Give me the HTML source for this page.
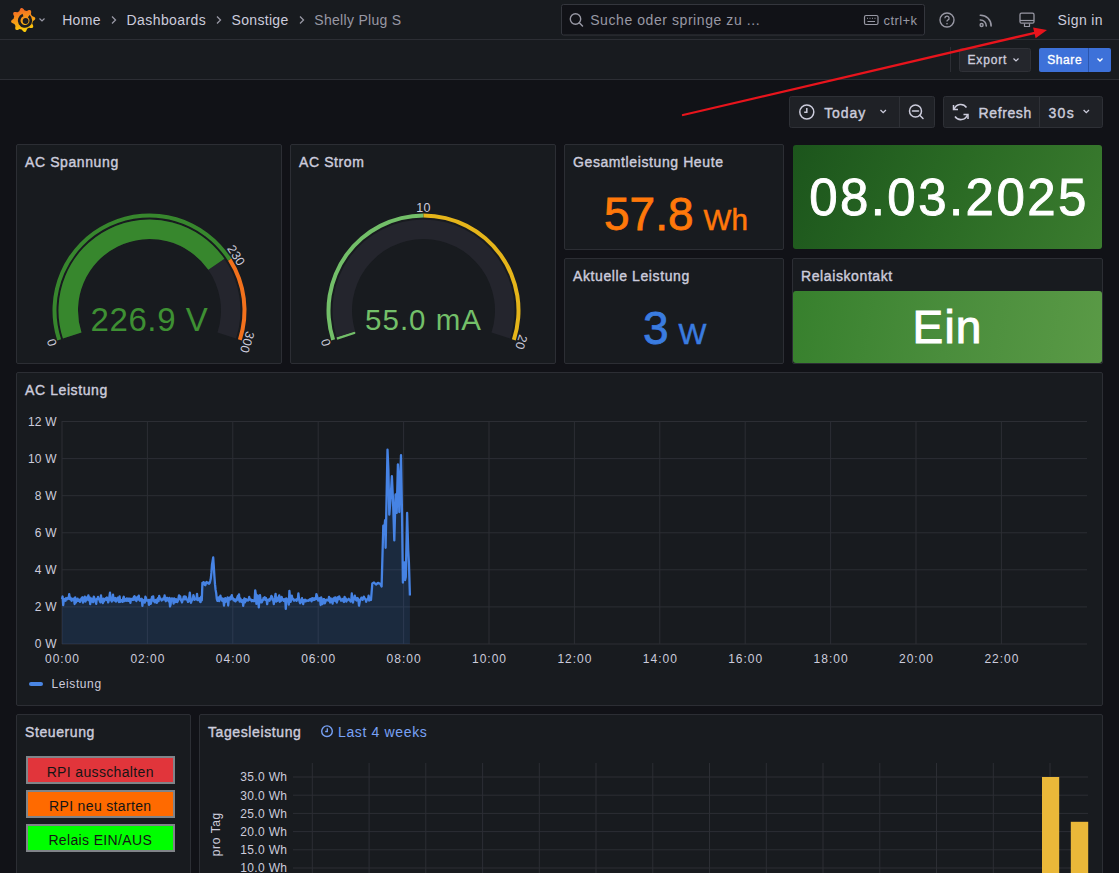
<!DOCTYPE html>
<html><head><meta charset="utf-8"><title>Shelly Plug S</title>
<style>
html,body{margin:0;padding:0;}
body{width:1119px;height:873px;overflow:hidden;background:#111217;position:relative;font-family:"Liberation Sans", sans-serif;}
.pn{position:absolute;border-radius:2px;background:#181b1f;border:1px solid #2c2e34;}
.pg{position:absolute;border-radius:3px;}
.bar{position:absolute;left:0;width:1119px;height:39px;background:#181b1f;border-bottom:1px solid #2c2e34;}
.ov{position:absolute;left:0;top:0;}
.btn{position:absolute;left:26px;width:144.5px;height:24px;border:2px solid #808489;font-size:14px;letter-spacing:0.35px;text-align:center;color:#151515;}
.btn span{position:absolute;left:0;right:0;top:6px;line-height:16px;}
</style></head><body>
<div class="bar" style="top:0;"></div>
<div class="bar" style="top:40px;"></div>
<div class="pn" style="left:16px;top:144px;width:264px;height:218px;"></div><div class="pn" style="left:290px;top:144px;width:264px;height:218px;"></div><div class="pn" style="left:564px;top:144px;width:218px;height:104px;"></div><div class="pn" style="left:564px;top:258px;width:218px;height:104px;"></div><div class="pn" style="left:792px;top:258px;width:309px;height:104px;"></div><div class="pn" style="left:16px;top:372px;width:1085px;height:332px;"></div><div class="pn" style="left:16px;top:714px;width:173px;height:198px;"></div><div class="pn" style="left:199px;top:714px;width:902px;height:198px;"></div><div class="pg" style="left:793px;top:145px;width:309px;height:104px;background:linear-gradient(115deg,#1c551c 0%,#2a6a24 50%,#3b7c2f 100%);"></div><div class="pg" style="left:793px;top:291px;width:309px;height:72px;background:linear-gradient(100deg,#37802d 0%,#4a8d3c 50%,#5a9a46 100%);"></div>
<svg class="ov" width="1119" height="873" viewBox="0 0 1119 873" font-family='"Liberation Sans", sans-serif'><text x="25" y="167" font-size="14" fill="#ccccdc" text-anchor="start" font-weight="normal" letter-spacing="0.6" stroke="#ccccdc" stroke-width="0.4" >AC Spannung</text><text x="299" y="167" font-size="14" fill="#ccccdc" text-anchor="start" font-weight="normal" letter-spacing="0.6" stroke="#ccccdc" stroke-width="0.4" >AC Strom</text><text x="573" y="167" font-size="14" fill="#ccccdc" text-anchor="start" font-weight="normal" letter-spacing="0.6" stroke="#ccccdc" stroke-width="0.4" >Gesamtleistung Heute</text><text x="573" y="281" font-size="14" fill="#ccccdc" text-anchor="start" font-weight="normal" letter-spacing="0.6" stroke="#ccccdc" stroke-width="0.4" >Aktuelle Leistung</text><text x="801" y="281" font-size="14" fill="#ccccdc" text-anchor="start" font-weight="normal" letter-spacing="0.6" stroke="#ccccdc" stroke-width="0.4" >Relaiskontakt</text><text x="25" y="395" font-size="14" fill="#ccccdc" text-anchor="start" font-weight="normal" letter-spacing="0.6" stroke="#ccccdc" stroke-width="0.4" >AC Leistung</text><text x="25" y="737" font-size="14" fill="#ccccdc" text-anchor="start" font-weight="normal" letter-spacing="0.6" stroke="#ccccdc" stroke-width="0.4" >Steuerung</text><text x="208" y="737" font-size="14" fill="#ccccdc" text-anchor="start" font-weight="normal" letter-spacing="0.6" stroke="#ccccdc" stroke-width="0.4" >Tagesleistung</text><path d="M62.95,338.62 A91,91 0 1 1 236.05,338.62 L217.50,332.59 A71.5,71.5 0 1 0 81.50,332.59 Z" fill="#24252d"/><path d="M62.95,338.62 A91,91 0 0 1 224.38,258.78 L208.33,269.87 A71.5,71.5 0 0 0 81.50,332.59 Z" fill="#37872D"/><path d="M57.25,340.47 A97,97 0 0 1 231.40,258.52 L228.02,260.67 A93,93 0 0 0 61.05,339.24 Z" fill="#37872D"/><path d="M231.40,258.52 A97,97 0 0 1 241.75,340.47 L237.95,339.24 A93,93 0 0 0 228.02,260.67 Z" fill="#F2711C"/><text x="0" y="0" font-size="12.5" fill="#ccccdc" text-anchor="middle" dominant-baseline="central" letter-spacing="0.3" transform="translate(52.02,342.17) rotate(252.0)">0</text><text x="0" y="0" font-size="12.5" fill="#ccccdc" text-anchor="middle" dominant-baseline="central" letter-spacing="0.3" transform="translate(236.04,255.58) rotate(417.6)">230</text><text x="0" y="0" font-size="12.5" fill="#ccccdc" text-anchor="middle" dominant-baseline="central" letter-spacing="0.3" transform="translate(246.98,342.17) rotate(468.0)">300</text><text x="149.5" y="331" font-size="33" fill="#3e9033" text-anchor="middle" font-weight="normal" letter-spacing="0.6" >226.9 V</text><path d="M336.95,338.62 A91,91 0 1 1 510.05,338.62 L491.50,332.59 A71.5,71.5 0 1 0 355.50,332.59 Z" fill="#24252d"/><path d="M336.95,338.62 A91,91 0 0 1 336.67,337.72 L355.27,331.89 A71.5,71.5 0 0 0 355.50,332.59 Z" fill="#73BF69"/><line x1="355.02" y1="332.75" x2="336.95" y2="338.62" stroke="#73BF69" stroke-width="2.2"/><path d="M331.25,340.47 A97,97 0 0 1 423.50,213.50 L423.50,217.50 A93,93 0 0 0 335.05,339.24 Z" fill="#73BF69"/><path d="M423.50,213.50 A97,97 0 0 1 515.75,340.47 L511.95,339.24 A93,93 0 0 0 423.50,217.50 Z" fill="#E5B51A"/><text x="0" y="0" font-size="12.5" fill="#ccccdc" text-anchor="middle" dominant-baseline="central" letter-spacing="0.3" transform="translate(326.02,342.17) rotate(252.0)">0</text><text x="0" y="0" font-size="12.5" fill="#ccccdc" text-anchor="middle" dominant-baseline="central" letter-spacing="0.3" transform="translate(423.50,208.00) rotate(360.0)">10</text><text x="0" y="0" font-size="12.5" fill="#ccccdc" text-anchor="middle" dominant-baseline="central" letter-spacing="0.3" transform="translate(520.98,342.17) rotate(468.0)">20</text><text x="423.5" y="329.6" font-size="29.5" fill="#73BF69" text-anchor="middle" font-weight="normal" letter-spacing="1.0" >55.0 mA</text><text x="604" y="230" font-size="46" fill="#FF780A" stroke="#FF780A" stroke-width="0.8">57.8<tspan font-size="29.6" dx="10" stroke-width="0.5">Wh</tspan></text><text x="643" y="344" font-size="46" fill="#3a7ce0" stroke="#3a7ce0" stroke-width="0.8">3<tspan font-size="29.6" dx="10" stroke-width="0.5">W</tspan></text><text x="949" y="215" font-size="51" fill="#ffffff" text-anchor="middle" letter-spacing="2.45" stroke="#fff" stroke-width="0.9">08.03.2025</text><text x="947.5" y="343" font-size="46" fill="#ffffff" text-anchor="middle" letter-spacing="1.1" stroke="#fff" stroke-width="1.0">Ein</text><line x1="62" y1="644.0" x2="1087" y2="644.0" stroke="#2c2e34" stroke-width="1"/><text x="56.7" y="648.3" font-size="12" fill="#ccccdc" text-anchor="end" font-weight="normal" letter-spacing="0.2" >0 W</text><line x1="62" y1="606.9" x2="1087" y2="606.9" stroke="#2c2e34" stroke-width="1"/><text x="56.7" y="611.2" font-size="12" fill="#ccccdc" text-anchor="end" font-weight="normal" letter-spacing="0.2" >2 W</text><line x1="62" y1="569.8" x2="1087" y2="569.8" stroke="#2c2e34" stroke-width="1"/><text x="56.7" y="574.1" font-size="12" fill="#ccccdc" text-anchor="end" font-weight="normal" letter-spacing="0.2" >4 W</text><line x1="62" y1="532.8" x2="1087" y2="532.8" stroke="#2c2e34" stroke-width="1"/><text x="56.7" y="537.1" font-size="12" fill="#ccccdc" text-anchor="end" font-weight="normal" letter-spacing="0.2" >6 W</text><line x1="62" y1="495.7" x2="1087" y2="495.7" stroke="#2c2e34" stroke-width="1"/><text x="56.7" y="500.0" font-size="12" fill="#ccccdc" text-anchor="end" font-weight="normal" letter-spacing="0.2" >8 W</text><line x1="62" y1="458.6" x2="1087" y2="458.6" stroke="#2c2e34" stroke-width="1"/><text x="56.7" y="462.9" font-size="12" fill="#ccccdc" text-anchor="end" font-weight="normal" letter-spacing="0.2" >10 W</text><line x1="62" y1="421.5" x2="1087" y2="421.5" stroke="#2c2e34" stroke-width="1"/><text x="56.7" y="425.8" font-size="12" fill="#ccccdc" text-anchor="end" font-weight="normal" letter-spacing="0.2" >12 W</text><line x1="62.0" y1="421" x2="62.0" y2="644.0" stroke="#2c2e34" stroke-width="1"/><text x="62.5" y="663" font-size="12" fill="#ccccdc" text-anchor="middle" font-weight="normal" letter-spacing="1.0" >00:00</text><line x1="147.4" y1="421" x2="147.4" y2="644.0" stroke="#2c2e34" stroke-width="1"/><text x="147.9" y="663" font-size="12" fill="#ccccdc" text-anchor="middle" font-weight="normal" letter-spacing="1.0" >02:00</text><line x1="232.8" y1="421" x2="232.8" y2="644.0" stroke="#2c2e34" stroke-width="1"/><text x="233.3" y="663" font-size="12" fill="#ccccdc" text-anchor="middle" font-weight="normal" letter-spacing="1.0" >04:00</text><line x1="318.2" y1="421" x2="318.2" y2="644.0" stroke="#2c2e34" stroke-width="1"/><text x="318.7" y="663" font-size="12" fill="#ccccdc" text-anchor="middle" font-weight="normal" letter-spacing="1.0" >06:00</text><line x1="403.6" y1="421" x2="403.6" y2="644.0" stroke="#2c2e34" stroke-width="1"/><text x="404.1" y="663" font-size="12" fill="#ccccdc" text-anchor="middle" font-weight="normal" letter-spacing="1.0" >08:00</text><line x1="489.0" y1="421" x2="489.0" y2="644.0" stroke="#2c2e34" stroke-width="1"/><text x="489.5" y="663" font-size="12" fill="#ccccdc" text-anchor="middle" font-weight="normal" letter-spacing="1.0" >10:00</text><line x1="574.4" y1="421" x2="574.4" y2="644.0" stroke="#2c2e34" stroke-width="1"/><text x="574.9" y="663" font-size="12" fill="#ccccdc" text-anchor="middle" font-weight="normal" letter-spacing="1.0" >12:00</text><line x1="659.8" y1="421" x2="659.8" y2="644.0" stroke="#2c2e34" stroke-width="1"/><text x="660.3" y="663" font-size="12" fill="#ccccdc" text-anchor="middle" font-weight="normal" letter-spacing="1.0" >14:00</text><line x1="745.2" y1="421" x2="745.2" y2="644.0" stroke="#2c2e34" stroke-width="1"/><text x="745.7" y="663" font-size="12" fill="#ccccdc" text-anchor="middle" font-weight="normal" letter-spacing="1.0" >16:00</text><line x1="830.6" y1="421" x2="830.6" y2="644.0" stroke="#2c2e34" stroke-width="1"/><text x="831.1" y="663" font-size="12" fill="#ccccdc" text-anchor="middle" font-weight="normal" letter-spacing="1.0" >18:00</text><line x1="916.0" y1="421" x2="916.0" y2="644.0" stroke="#2c2e34" stroke-width="1"/><text x="916.5" y="663" font-size="12" fill="#ccccdc" text-anchor="middle" font-weight="normal" letter-spacing="1.0" >20:00</text><line x1="1001.4" y1="421" x2="1001.4" y2="644.0" stroke="#2c2e34" stroke-width="1"/><text x="1001.9" y="663" font-size="12" fill="#ccccdc" text-anchor="middle" font-weight="normal" letter-spacing="1.0" >22:00</text><path d="M62.0,599.1 L62.6,596.5 L63.2,605.2 L63.8,600.2 L64.4,599.0 L65.0,599.3 L65.6,600.7 L66.2,598.0 L66.8,598.7 L67.4,599.2 L68.0,597.6 L68.6,598.6 L69.2,594.1 L69.8,599.1 L70.4,597.5 L71.0,599.5 L71.6,600.8 L72.2,598.8 L72.8,599.6 L73.4,598.9 L74.0,598.5 L74.6,604.0 L75.2,597.5 L75.8,602.6 L76.4,601.3 L77.0,600.5 L77.6,598.7 L78.2,600.8 L78.8,600.1 L79.4,599.8 L80.0,601.9 L80.6,600.5 L81.2,598.8 L81.8,597.9 L82.4,597.3 L83.0,602.6 L83.6,598.4 L84.2,599.5 L84.8,596.6 L85.4,601.6 L86.0,598.4 L86.6,600.2 L87.2,597.1 L87.8,598.7 L88.4,595.3 L89.0,600.3 L89.6,597.4 L90.2,604.1 L90.8,598.4 L91.4,598.6 L92.0,601.7 L92.6,598.8 L93.2,602.2 L93.8,596.6 L94.4,598.2 L95.0,600.5 L95.6,601.2 L96.2,603.8 L96.8,598.9 L97.4,599.1 L98.0,596.9 L98.6,598.8 L99.2,599.5 L99.8,601.0 L100.4,602.4 L101.0,595.4 L101.6,600.1 L102.2,599.9 L102.8,603.0 L103.4,598.7 L104.0,601.4 L104.6,599.8 L105.2,599.1 L105.8,598.3 L106.4,599.8 L107.0,597.5 L107.6,600.0 L108.2,602.4 L108.8,600.5 L109.4,596.7 L110.0,592.7 L110.6,599.3 L111.2,600.3 L111.8,601.5 L112.4,599.3 L113.0,594.7 L113.6,599.9 L114.2,600.5 L114.8,600.5 L115.4,598.0 L116.0,601.5 L116.6,600.7 L117.2,599.5 L117.8,597.7 L118.4,598.1 L119.0,602.0 L119.6,596.3 L120.2,601.8 L120.8,600.1 L121.4,600.2 L122.0,601.3 L122.6,601.9 L123.2,598.3 L123.8,596.8 L124.4,601.1 L125.0,598.8 L125.6,599.8 L126.2,600.7 L126.8,598.4 L127.4,598.9 L128.0,600.8 L128.6,598.7 L129.2,600.9 L129.8,598.6 L130.4,602.8 L131.0,599.1 L131.6,599.6 L132.2,598.6 L132.8,599.9 L133.4,599.9 L134.0,596.7 L134.6,596.3 L135.2,599.8 L135.8,597.6 L136.4,601.0 L137.0,598.6 L137.6,597.0 L138.2,599.3 L138.8,595.7 L139.4,600.0 L140.0,600.7 L140.6,599.1 L141.2,600.0 L141.8,598.8 L142.4,605.8 L143.0,600.0 L143.6,600.9 L144.2,601.6 L144.8,602.6 L145.4,596.7 L146.0,598.0 L146.6,600.6 L147.2,600.4 L147.8,600.9 L148.4,600.0 L149.0,604.9 L149.6,600.9 L150.2,599.7 L150.8,603.8 L151.4,601.3 L152.0,597.0 L152.6,600.3 L153.2,596.4 L153.8,601.2 L154.4,601.6 L155.0,602.4 L155.6,600.0 L156.2,599.8 L156.8,602.9 L157.4,601.2 L158.0,598.1 L158.6,601.1 L159.2,596.0 L159.8,598.3 L160.4,598.3 L161.0,599.3 L161.6,600.5 L162.2,599.8 L162.8,599.6 L163.4,598.2 L164.0,599.3 L164.6,595.5 L165.2,599.5 L165.8,601.2 L166.4,598.4 L167.0,597.8 L167.6,599.1 L168.2,600.5 L168.8,601.4 L169.4,597.8 L170.0,606.5 L170.6,604.7 L171.2,598.9 L171.8,598.4 L172.4,598.6 L173.0,599.7 L173.6,603.7 L174.2,598.5 L174.8,600.8 L175.4,602.0 L176.0,599.1 L176.6,601.8 L177.2,602.0 L177.8,601.1 L178.4,598.4 L179.0,595.5 L179.6,598.8 L180.2,596.3 L180.8,600.4 L181.4,599.4 L182.0,602.4 L182.6,600.3 L183.2,599.2 L183.8,596.6 L184.4,596.5 L185.0,599.4 L185.6,596.6 L186.2,597.8 L186.8,599.6 L187.4,599.9 L188.0,601.9 L188.6,601.4 L189.2,597.8 L189.8,592.7 L190.4,597.5 L191.0,602.8 L191.6,600.6 L192.2,600.1 L192.8,599.2 L193.4,595.1 L194.0,597.1 L194.6,599.8 L195.2,599.1 L195.8,599.0 L196.4,599.4 L197.0,593.9 L197.6,600.2 L198.2,599.4 L198.8,599.2 L199.4,598.2 L200.0,601.5 L200.6,602.0 L201.2,596.6 L201.8,600.3 L202.4,582.9 L203.0,584.1 L203.6,582.2 L204.2,582.6 L204.8,585.0 L205.4,585.2 L206.0,582.7 L206.6,581.9 L207.2,583.1 L207.8,583.0 L208.4,582.7 L209.0,583.8 L209.6,583.1 L210.2,581.1 L210.8,578.5 L211.4,572.9 L212.0,564.6 L212.6,561.1 L213.2,557.5 L213.8,566.4 L214.4,576.3 L215.0,584.2 L215.6,589.9 L216.2,593.1 L216.8,599.0 L217.4,600.9 L218.0,600.4 L218.6,597.4 L219.2,601.1 L219.8,598.7 L220.4,595.6 L221.0,598.5 L221.6,599.3 L222.2,600.7 L222.8,598.5 L223.4,600.2 L224.0,605.6 L224.6,601.1 L225.2,598.2 L225.8,601.8 L226.4,599.5 L227.0,600.5 L227.6,597.5 L228.2,605.5 L228.8,599.5 L229.4,598.4 L230.0,597.4 L230.6,599.5 L231.2,596.7 L231.8,595.1 L232.4,598.5 L233.0,598.2 L233.6,600.3 L234.2,599.3 L234.8,600.9 L235.4,601.4 L236.0,599.5 L236.6,600.3 L237.2,597.9 L237.8,596.0 L238.4,599.7 L239.0,594.4 L239.6,601.5 L240.2,598.4 L240.8,599.5 L241.4,601.8 L242.0,601.3 L242.6,600.3 L243.2,605.8 L243.8,601.6 L244.4,598.3 L245.0,602.3 L245.6,599.1 L246.2,599.4 L246.8,600.5 L247.4,599.9 L248.0,600.5 L248.6,600.1 L249.2,597.0 L249.8,599.6 L250.4,599.4 L251.0,599.6 L251.6,601.2 L252.2,600.3 L252.8,600.1 L253.4,601.2 L254.0,601.2 L254.6,600.9 L255.2,590.3 L255.8,593.9 L256.4,603.9 L257.0,599.9 L257.6,595.5 L258.2,600.2 L258.8,607.4 L259.4,598.5 L260.0,595.1 L260.6,599.8 L261.2,602.4 L261.8,602.4 L262.4,600.8 L263.0,600.0 L263.6,597.8 L264.2,599.1 L264.8,597.3 L265.4,599.9 L266.0,598.2 L266.6,600.4 L267.2,604.2 L267.8,599.9 L268.4,600.0 L269.0,599.4 L269.6,600.7 L270.2,598.9 L270.8,598.0 L271.4,595.9 L272.0,596.8 L272.6,600.1 L273.2,599.8 L273.8,604.1 L274.4,599.8 L275.0,597.3 L275.6,593.8 L276.2,601.6 L276.8,597.6 L277.4,600.8 L278.0,600.4 L278.6,597.7 L279.2,595.3 L279.8,601.8 L280.4,600.7 L281.0,600.8 L281.6,596.8 L282.2,598.8 L282.8,599.1 L283.4,600.7 L284.0,599.4 L284.6,601.2 L285.2,598.8 L285.8,608.9 L286.4,598.3 L287.0,599.4 L287.6,600.2 L288.2,599.5 L288.8,604.7 L289.4,590.8 L290.0,597.3 L290.6,601.8 L291.2,600.2 L291.8,595.7 L292.4,598.7 L293.0,598.7 L293.6,599.9 L294.2,600.7 L294.8,599.6 L295.4,599.7 L296.0,600.0 L296.6,600.8 L297.2,598.9 L297.8,599.3 L298.4,593.4 L299.0,598.8 L299.6,601.9 L300.2,603.3 L300.8,602.2 L301.4,599.8 L302.0,598.2 L302.6,600.5 L303.2,604.0 L303.8,600.2 L304.4,601.5 L305.0,599.7 L305.6,601.4 L306.2,600.7 L306.8,600.3 L307.4,600.5 L308.0,600.9 L308.6,600.7 L309.2,599.8 L309.8,600.3 L310.4,599.0 L311.0,599.6 L311.6,601.3 L312.2,598.2 L312.8,599.8 L313.4,598.4 L314.0,600.0 L314.6,598.6 L315.2,597.9 L315.8,599.3 L316.4,594.1 L317.0,596.1 L317.6,598.1 L318.2,600.6 L318.8,598.7 L319.4,598.4 L320.0,598.2 L320.6,605.0 L321.2,597.4 L321.8,600.2 L322.4,604.1 L323.0,602.3 L323.6,599.2 L324.2,599.1 L324.8,603.3 L325.4,601.9 L326.0,600.1 L326.6,599.6 L327.2,600.2 L327.8,600.0 L328.4,600.6 L329.0,596.9 L329.6,600.0 L330.2,602.5 L330.8,598.5 L331.4,601.5 L332.0,599.4 L332.6,603.6 L333.2,598.6 L333.8,598.7 L334.4,597.6 L335.0,600.8 L335.6,597.5 L336.2,601.5 L336.8,602.5 L337.4,600.5 L338.0,597.1 L338.6,599.2 L339.2,596.4 L339.8,598.8 L340.4,598.4 L341.0,600.6 L341.6,600.5 L342.2,600.1 L342.8,598.9 L343.4,601.3 L344.0,602.0 L344.6,596.8 L345.2,599.5 L345.8,598.4 L346.4,601.5 L347.0,600.3 L347.6,599.6 L348.2,599.5 L348.8,598.8 L349.4,600.4 L350.0,600.1 L350.6,601.6 L351.2,600.6 L351.8,593.5 L352.4,599.8 L353.0,602.5 L353.6,597.6 L354.2,598.5 L354.8,595.6 L355.4,599.5 L356.0,599.1 L356.6,600.5 L357.2,598.0 L357.8,598.3 L358.4,600.1 L359.0,605.7 L359.6,602.6 L360.2,599.6 L360.8,599.4 L361.4,597.7 L362.0,599.5 L362.6,599.9 L363.2,598.5 L363.8,596.6 L364.4,597.9 L365.0,598.9 L365.6,599.3 L366.2,601.8 L366.8,599.7 L367.4,599.3 L368.0,599.4 L368.6,595.7 L369.2,600.5 L369.8,598.5 L370.4,597.8 L371.0,600.0 L372.3,583.5 L374.0,582.5 L376.0,584.5 L378.0,582.8 L380.4,584.0 L381.6,586.5 L383.3,525.7 L384.2,531.0 L385.1,520.2 L385.6,547.8 L387.5,449.6 L388.4,470.0 L389.3,514.7 L390.5,500.0 L391.9,476.2 L393.0,500.0 L394.3,540.4 L395.6,494.5 L396.7,512.9 L397.9,464.3 L398.6,480.0 L399.3,512.0 L401.0,455.1 L402.1,520.0 L402.9,582.6 L403.6,570.0 L404.4,562.4 L405.1,580.0 L405.8,577.1 L407.1,512.9 L408.2,550.0 L408.9,562.4 L409.9,595.5 L409.9,644.0 L62,644.0 Z" fill="rgba(50,116,217,0.17)"/><path d="M62.0,599.1 L62.6,596.5 L63.2,605.2 L63.8,600.2 L64.4,599.0 L65.0,599.3 L65.6,600.7 L66.2,598.0 L66.8,598.7 L67.4,599.2 L68.0,597.6 L68.6,598.6 L69.2,594.1 L69.8,599.1 L70.4,597.5 L71.0,599.5 L71.6,600.8 L72.2,598.8 L72.8,599.6 L73.4,598.9 L74.0,598.5 L74.6,604.0 L75.2,597.5 L75.8,602.6 L76.4,601.3 L77.0,600.5 L77.6,598.7 L78.2,600.8 L78.8,600.1 L79.4,599.8 L80.0,601.9 L80.6,600.5 L81.2,598.8 L81.8,597.9 L82.4,597.3 L83.0,602.6 L83.6,598.4 L84.2,599.5 L84.8,596.6 L85.4,601.6 L86.0,598.4 L86.6,600.2 L87.2,597.1 L87.8,598.7 L88.4,595.3 L89.0,600.3 L89.6,597.4 L90.2,604.1 L90.8,598.4 L91.4,598.6 L92.0,601.7 L92.6,598.8 L93.2,602.2 L93.8,596.6 L94.4,598.2 L95.0,600.5 L95.6,601.2 L96.2,603.8 L96.8,598.9 L97.4,599.1 L98.0,596.9 L98.6,598.8 L99.2,599.5 L99.8,601.0 L100.4,602.4 L101.0,595.4 L101.6,600.1 L102.2,599.9 L102.8,603.0 L103.4,598.7 L104.0,601.4 L104.6,599.8 L105.2,599.1 L105.8,598.3 L106.4,599.8 L107.0,597.5 L107.6,600.0 L108.2,602.4 L108.8,600.5 L109.4,596.7 L110.0,592.7 L110.6,599.3 L111.2,600.3 L111.8,601.5 L112.4,599.3 L113.0,594.7 L113.6,599.9 L114.2,600.5 L114.8,600.5 L115.4,598.0 L116.0,601.5 L116.6,600.7 L117.2,599.5 L117.8,597.7 L118.4,598.1 L119.0,602.0 L119.6,596.3 L120.2,601.8 L120.8,600.1 L121.4,600.2 L122.0,601.3 L122.6,601.9 L123.2,598.3 L123.8,596.8 L124.4,601.1 L125.0,598.8 L125.6,599.8 L126.2,600.7 L126.8,598.4 L127.4,598.9 L128.0,600.8 L128.6,598.7 L129.2,600.9 L129.8,598.6 L130.4,602.8 L131.0,599.1 L131.6,599.6 L132.2,598.6 L132.8,599.9 L133.4,599.9 L134.0,596.7 L134.6,596.3 L135.2,599.8 L135.8,597.6 L136.4,601.0 L137.0,598.6 L137.6,597.0 L138.2,599.3 L138.8,595.7 L139.4,600.0 L140.0,600.7 L140.6,599.1 L141.2,600.0 L141.8,598.8 L142.4,605.8 L143.0,600.0 L143.6,600.9 L144.2,601.6 L144.8,602.6 L145.4,596.7 L146.0,598.0 L146.6,600.6 L147.2,600.4 L147.8,600.9 L148.4,600.0 L149.0,604.9 L149.6,600.9 L150.2,599.7 L150.8,603.8 L151.4,601.3 L152.0,597.0 L152.6,600.3 L153.2,596.4 L153.8,601.2 L154.4,601.6 L155.0,602.4 L155.6,600.0 L156.2,599.8 L156.8,602.9 L157.4,601.2 L158.0,598.1 L158.6,601.1 L159.2,596.0 L159.8,598.3 L160.4,598.3 L161.0,599.3 L161.6,600.5 L162.2,599.8 L162.8,599.6 L163.4,598.2 L164.0,599.3 L164.6,595.5 L165.2,599.5 L165.8,601.2 L166.4,598.4 L167.0,597.8 L167.6,599.1 L168.2,600.5 L168.8,601.4 L169.4,597.8 L170.0,606.5 L170.6,604.7 L171.2,598.9 L171.8,598.4 L172.4,598.6 L173.0,599.7 L173.6,603.7 L174.2,598.5 L174.8,600.8 L175.4,602.0 L176.0,599.1 L176.6,601.8 L177.2,602.0 L177.8,601.1 L178.4,598.4 L179.0,595.5 L179.6,598.8 L180.2,596.3 L180.8,600.4 L181.4,599.4 L182.0,602.4 L182.6,600.3 L183.2,599.2 L183.8,596.6 L184.4,596.5 L185.0,599.4 L185.6,596.6 L186.2,597.8 L186.8,599.6 L187.4,599.9 L188.0,601.9 L188.6,601.4 L189.2,597.8 L189.8,592.7 L190.4,597.5 L191.0,602.8 L191.6,600.6 L192.2,600.1 L192.8,599.2 L193.4,595.1 L194.0,597.1 L194.6,599.8 L195.2,599.1 L195.8,599.0 L196.4,599.4 L197.0,593.9 L197.6,600.2 L198.2,599.4 L198.8,599.2 L199.4,598.2 L200.0,601.5 L200.6,602.0 L201.2,596.6 L201.8,600.3 L202.4,582.9 L203.0,584.1 L203.6,582.2 L204.2,582.6 L204.8,585.0 L205.4,585.2 L206.0,582.7 L206.6,581.9 L207.2,583.1 L207.8,583.0 L208.4,582.7 L209.0,583.8 L209.6,583.1 L210.2,581.1 L210.8,578.5 L211.4,572.9 L212.0,564.6 L212.6,561.1 L213.2,557.5 L213.8,566.4 L214.4,576.3 L215.0,584.2 L215.6,589.9 L216.2,593.1 L216.8,599.0 L217.4,600.9 L218.0,600.4 L218.6,597.4 L219.2,601.1 L219.8,598.7 L220.4,595.6 L221.0,598.5 L221.6,599.3 L222.2,600.7 L222.8,598.5 L223.4,600.2 L224.0,605.6 L224.6,601.1 L225.2,598.2 L225.8,601.8 L226.4,599.5 L227.0,600.5 L227.6,597.5 L228.2,605.5 L228.8,599.5 L229.4,598.4 L230.0,597.4 L230.6,599.5 L231.2,596.7 L231.8,595.1 L232.4,598.5 L233.0,598.2 L233.6,600.3 L234.2,599.3 L234.8,600.9 L235.4,601.4 L236.0,599.5 L236.6,600.3 L237.2,597.9 L237.8,596.0 L238.4,599.7 L239.0,594.4 L239.6,601.5 L240.2,598.4 L240.8,599.5 L241.4,601.8 L242.0,601.3 L242.6,600.3 L243.2,605.8 L243.8,601.6 L244.4,598.3 L245.0,602.3 L245.6,599.1 L246.2,599.4 L246.8,600.5 L247.4,599.9 L248.0,600.5 L248.6,600.1 L249.2,597.0 L249.8,599.6 L250.4,599.4 L251.0,599.6 L251.6,601.2 L252.2,600.3 L252.8,600.1 L253.4,601.2 L254.0,601.2 L254.6,600.9 L255.2,590.3 L255.8,593.9 L256.4,603.9 L257.0,599.9 L257.6,595.5 L258.2,600.2 L258.8,607.4 L259.4,598.5 L260.0,595.1 L260.6,599.8 L261.2,602.4 L261.8,602.4 L262.4,600.8 L263.0,600.0 L263.6,597.8 L264.2,599.1 L264.8,597.3 L265.4,599.9 L266.0,598.2 L266.6,600.4 L267.2,604.2 L267.8,599.9 L268.4,600.0 L269.0,599.4 L269.6,600.7 L270.2,598.9 L270.8,598.0 L271.4,595.9 L272.0,596.8 L272.6,600.1 L273.2,599.8 L273.8,604.1 L274.4,599.8 L275.0,597.3 L275.6,593.8 L276.2,601.6 L276.8,597.6 L277.4,600.8 L278.0,600.4 L278.6,597.7 L279.2,595.3 L279.8,601.8 L280.4,600.7 L281.0,600.8 L281.6,596.8 L282.2,598.8 L282.8,599.1 L283.4,600.7 L284.0,599.4 L284.6,601.2 L285.2,598.8 L285.8,608.9 L286.4,598.3 L287.0,599.4 L287.6,600.2 L288.2,599.5 L288.8,604.7 L289.4,590.8 L290.0,597.3 L290.6,601.8 L291.2,600.2 L291.8,595.7 L292.4,598.7 L293.0,598.7 L293.6,599.9 L294.2,600.7 L294.8,599.6 L295.4,599.7 L296.0,600.0 L296.6,600.8 L297.2,598.9 L297.8,599.3 L298.4,593.4 L299.0,598.8 L299.6,601.9 L300.2,603.3 L300.8,602.2 L301.4,599.8 L302.0,598.2 L302.6,600.5 L303.2,604.0 L303.8,600.2 L304.4,601.5 L305.0,599.7 L305.6,601.4 L306.2,600.7 L306.8,600.3 L307.4,600.5 L308.0,600.9 L308.6,600.7 L309.2,599.8 L309.8,600.3 L310.4,599.0 L311.0,599.6 L311.6,601.3 L312.2,598.2 L312.8,599.8 L313.4,598.4 L314.0,600.0 L314.6,598.6 L315.2,597.9 L315.8,599.3 L316.4,594.1 L317.0,596.1 L317.6,598.1 L318.2,600.6 L318.8,598.7 L319.4,598.4 L320.0,598.2 L320.6,605.0 L321.2,597.4 L321.8,600.2 L322.4,604.1 L323.0,602.3 L323.6,599.2 L324.2,599.1 L324.8,603.3 L325.4,601.9 L326.0,600.1 L326.6,599.6 L327.2,600.2 L327.8,600.0 L328.4,600.6 L329.0,596.9 L329.6,600.0 L330.2,602.5 L330.8,598.5 L331.4,601.5 L332.0,599.4 L332.6,603.6 L333.2,598.6 L333.8,598.7 L334.4,597.6 L335.0,600.8 L335.6,597.5 L336.2,601.5 L336.8,602.5 L337.4,600.5 L338.0,597.1 L338.6,599.2 L339.2,596.4 L339.8,598.8 L340.4,598.4 L341.0,600.6 L341.6,600.5 L342.2,600.1 L342.8,598.9 L343.4,601.3 L344.0,602.0 L344.6,596.8 L345.2,599.5 L345.8,598.4 L346.4,601.5 L347.0,600.3 L347.6,599.6 L348.2,599.5 L348.8,598.8 L349.4,600.4 L350.0,600.1 L350.6,601.6 L351.2,600.6 L351.8,593.5 L352.4,599.8 L353.0,602.5 L353.6,597.6 L354.2,598.5 L354.8,595.6 L355.4,599.5 L356.0,599.1 L356.6,600.5 L357.2,598.0 L357.8,598.3 L358.4,600.1 L359.0,605.7 L359.6,602.6 L360.2,599.6 L360.8,599.4 L361.4,597.7 L362.0,599.5 L362.6,599.9 L363.2,598.5 L363.8,596.6 L364.4,597.9 L365.0,598.9 L365.6,599.3 L366.2,601.8 L366.8,599.7 L367.4,599.3 L368.0,599.4 L368.6,595.7 L369.2,600.5 L369.8,598.5 L370.4,597.8 L371.0,600.0 L372.3,583.5 L374.0,582.5 L376.0,584.5 L378.0,582.8 L380.4,584.0 L381.6,586.5 L383.3,525.7 L384.2,531.0 L385.1,520.2 L385.6,547.8 L387.5,449.6 L388.4,470.0 L389.3,514.7 L390.5,500.0 L391.9,476.2 L393.0,500.0 L394.3,540.4 L395.6,494.5 L396.7,512.9 L397.9,464.3 L398.6,480.0 L399.3,512.0 L401.0,455.1 L402.1,520.0 L402.9,582.6 L403.6,570.0 L404.4,562.4 L405.1,580.0 L405.8,577.1 L407.1,512.9 L408.2,550.0 L408.9,562.4 L409.9,595.5" fill="none" stroke="#4683e4" stroke-width="2.3" stroke-linejoin="round"/><rect x="29" y="682" width="14" height="4" rx="2" fill="#4a86e4"/><text x="51.5" y="688" font-size="12" fill="#ccccdc" text-anchor="start" font-weight="normal" letter-spacing="0.6" >Leistung</text><line x1="293" y1="777.0" x2="1088" y2="777.0" stroke="#2c2e34" stroke-width="1"/><text x="287.4" y="781.3" font-size="12" fill="#ccccdc" text-anchor="end" font-weight="normal" letter-spacing="0.35" >35.0 Wh</text><line x1="293" y1="795.2" x2="1088" y2="795.2" stroke="#2c2e34" stroke-width="1"/><text x="287.4" y="799.5" font-size="12" fill="#ccccdc" text-anchor="end" font-weight="normal" letter-spacing="0.35" >30.0 Wh</text><line x1="293" y1="813.4" x2="1088" y2="813.4" stroke="#2c2e34" stroke-width="1"/><text x="287.4" y="817.7" font-size="12" fill="#ccccdc" text-anchor="end" font-weight="normal" letter-spacing="0.35" >25.0 Wh</text><line x1="293" y1="831.6" x2="1088" y2="831.6" stroke="#2c2e34" stroke-width="1"/><text x="287.4" y="835.9" font-size="12" fill="#ccccdc" text-anchor="end" font-weight="normal" letter-spacing="0.35" >20.0 Wh</text><line x1="293" y1="849.8" x2="1088" y2="849.8" stroke="#2c2e34" stroke-width="1"/><text x="287.4" y="854.1" font-size="12" fill="#ccccdc" text-anchor="end" font-weight="normal" letter-spacing="0.35" >15.0 Wh</text><line x1="293" y1="868.0" x2="1088" y2="868.0" stroke="#2c2e34" stroke-width="1"/><text x="287.4" y="872.3" font-size="12" fill="#ccccdc" text-anchor="end" font-weight="normal" letter-spacing="0.35" >10.0 Wh</text><line x1="293" y1="886.2" x2="1088" y2="886.2" stroke="#2c2e34" stroke-width="1"/><text x="287.4" y="890.5" font-size="12" fill="#ccccdc" text-anchor="end" font-weight="normal" letter-spacing="0.35" >5.0 Wh</text><line x1="312.3" y1="763" x2="312.3" y2="873" stroke="#2c2e34" stroke-width="1"/><line x1="369.1" y1="763" x2="369.1" y2="873" stroke="#2c2e34" stroke-width="1"/><line x1="425.8" y1="763" x2="425.8" y2="873" stroke="#2c2e34" stroke-width="1"/><line x1="482.6" y1="763" x2="482.6" y2="873" stroke="#2c2e34" stroke-width="1"/><line x1="539.3" y1="763" x2="539.3" y2="873" stroke="#2c2e34" stroke-width="1"/><line x1="596.0" y1="763" x2="596.0" y2="873" stroke="#2c2e34" stroke-width="1"/><line x1="652.8" y1="763" x2="652.8" y2="873" stroke="#2c2e34" stroke-width="1"/><line x1="709.5" y1="763" x2="709.5" y2="873" stroke="#2c2e34" stroke-width="1"/><line x1="766.3" y1="763" x2="766.3" y2="873" stroke="#2c2e34" stroke-width="1"/><line x1="823.0" y1="763" x2="823.0" y2="873" stroke="#2c2e34" stroke-width="1"/><line x1="879.8" y1="763" x2="879.8" y2="873" stroke="#2c2e34" stroke-width="1"/><line x1="936.5" y1="763" x2="936.5" y2="873" stroke="#2c2e34" stroke-width="1"/><line x1="993.3" y1="763" x2="993.3" y2="873" stroke="#2c2e34" stroke-width="1"/><line x1="1050.0" y1="763" x2="1050.0" y2="873" stroke="#2c2e34" stroke-width="1"/><text x="0" y="0" font-size="12" fill="#ccccdc" text-anchor="middle" dominant-baseline="central" letter-spacing="0.6" transform="translate(215.7,834.2) rotate(-90)">pro Tag</text><rect x="1042" y="777" width="17.2" height="100" fill="#EAB839"/><rect x="1070.8" y="821.8" width="17.4" height="60" fill="#EAB839"/><circle cx="327" cy="731.2" r="5.3" fill="none" stroke="#78a2f6" stroke-width="1.4"/><path d="M327.3,728.2 V731.5 H325.2" fill="none" stroke="#78a2f6" stroke-width="1.3"/><text x="338" y="737" font-size="14" fill="#78a2f6" text-anchor="start" font-weight="normal" letter-spacing="0.65" >Last 4 weeks</text></svg>
<div class="btn" style="top:756px;background:#E1353B;"><span>RPI ausschalten</span></div><div class="btn" style="top:790px;background:#FF6A00;"><span>RPI neu starten</span></div><div class="btn" style="top:824px;background:#00FF00;"><span>Relais EIN/AUS</span></div>
<svg class="ov" width="1119" height="873" viewBox="0 0 1119 873" font-family='"Liberation Sans", sans-serif'><defs><linearGradient id="lg" x1="0" y1="0" x2="0.25" y2="1"><stop offset="0" stop-color="#F05A28"/><stop offset="1" stop-color="#FBCA0A"/></linearGradient></defs><polygon points="23.20,8.70 23.76,9.36 24.25,10.05 24.71,10.48 25.20,10.57 25.70,10.69 26.18,10.83 26.65,11.00 27.35,10.67 28.14,10.31 28.95,10.05 29.71,9.97 30.36,10.14 30.84,10.57 31.11,11.21 31.19,12.01 31.12,12.87 30.97,13.71 31.00,14.33 31.28,14.75 31.55,15.18 31.79,15.62 32.01,16.08 32.73,16.34 33.55,16.64 34.30,17.02 34.90,17.51 35.23,18.09 35.27,18.73 35.01,19.38 34.50,20.00 33.84,20.56 33.15,21.05 32.72,21.51 32.63,22.00 32.51,22.50 32.37,22.98 32.20,23.45 32.53,24.15 32.89,24.94 33.15,25.75 33.23,26.51 33.06,27.16 32.63,27.64 31.99,27.91 31.19,27.99 30.33,27.92 29.49,27.77 28.87,27.80 28.45,28.08 28.02,28.35 27.58,28.59 27.12,28.81 26.86,29.53 26.56,30.35 26.18,31.10 25.69,31.70 25.11,32.03 24.47,32.07 23.82,31.81 23.20,31.30 22.64,30.64 22.15,29.95 21.69,29.52 21.20,29.43 20.70,29.31 20.22,29.17 19.75,29.00 19.05,29.33 18.26,29.69 17.45,29.95 16.69,30.03 16.04,29.86 15.56,29.43 15.29,28.79 15.21,27.99 15.28,27.13 15.43,26.29 15.40,25.67 15.12,25.25 14.85,24.82 14.61,24.38 14.39,23.92 13.67,23.66 12.85,23.36 12.10,22.98 11.50,22.49 11.17,21.91 11.13,21.27 11.39,20.62 11.90,20.00 12.56,19.44 13.25,18.95 13.68,18.49 13.77,18.00 13.89,17.50 14.03,17.02 14.20,16.55 13.87,15.85 13.51,15.06 13.25,14.25 13.17,13.49 13.34,12.84 13.77,12.36 14.41,12.09 15.21,12.01 16.07,12.08 16.91,12.23 17.53,12.20 17.95,11.92 18.38,11.65 18.82,11.41 19.28,11.19 19.54,10.47 19.84,9.65 20.22,8.90 20.71,8.30 21.29,7.97 21.93,7.93 22.58,8.19" fill="url(#lg)"/><path d="M29.63,15.08 A7.2,7.2 0 1 1 22.54,13.83 L23.46,16.37 A4.5,4.5 0 1 0 27.89,17.15 Z" fill="#1b1d22"/><circle cx="25.599999999999998" cy="21.0" r="2.9" fill="#1b1d22"/><path d="M39.5,18.5 L42,21 L44.5,18.5" fill="none" stroke="#9898a4" stroke-width="1.2"/><path d="M112,16.5 L115.5,20 L112,23.5" fill="none" stroke="#9898a4" stroke-width="1.3"/><path d="M217,16.5 L220.5,20 L217,23.5" fill="none" stroke="#9898a4" stroke-width="1.3"/><path d="M300,16.5 L303.5,20 L300,23.5" fill="none" stroke="#9898a4" stroke-width="1.3"/><rect x="561.5" y="4.5" width="363" height="30.5" rx="2" fill="#111217" stroke="#34363d" stroke-width="1"/><circle cx="575.5" cy="19" r="5.2" fill="none" stroke="#9898a4" stroke-width="1.4"/><path d="M579.3,22.8 L582.5,26" stroke="#9898a4" stroke-width="1.5" stroke-linecap="round"/><rect x="864.5" y="15.5" width="13.5" height="9" rx="1.5" fill="none" stroke="#9898a4" stroke-width="1.2"/><rect x="867" y="17.8" width="1" height="1" fill="#9898a4"/><rect x="869.5" y="17.8" width="1" height="1" fill="#9898a4"/><rect x="872" y="17.8" width="1" height="1" fill="#9898a4"/><rect x="874.5" y="17.8" width="1" height="1" fill="#9898a4"/><rect x="867.5" y="21" width="7.5" height="1" fill="#9898a4"/><circle cx="947" cy="20" r="7" fill="none" stroke="#9898a4" stroke-width="1.4"/><path d="M944.9,18.2 A2.1,2.1 0 1 1 947.8,20.1 Q947,20.5 947,21.6" fill="none" stroke="#9898a4" stroke-width="1.3"/><circle cx="947" cy="23.7" r="0.8" fill="#9898a4"/><circle cx="981.6" cy="25" r="1.5" fill="none" stroke="#9898a4" stroke-width="1.4"/><path d="M980.3,20 A5.8,5.8 0 0 1 986.3,26" fill="none" stroke="#9898a4" stroke-width="1.6" stroke-linecap="round"/><path d="M980.3,15.2 A10.5,10.5 0 0 1 991.1,26" fill="none" stroke="#9898a4" stroke-width="1.6" stroke-linecap="round"/><rect x="1020" y="13.2" width="14" height="10" rx="1.5" fill="none" stroke="#9898a4" stroke-width="1.3"/><path d="M1020,20.5 H1034" stroke="#9898a4" stroke-width="1.2"/><path d="M1024.5,23.5 V26.5 H1029.5 V23.5" fill="none" stroke="#9898a4" stroke-width="1.2"/><rect x="950" y="47" width="1" height="25" fill="#2c2e34"/><rect x="959.5" y="48.5" width="71" height="23" rx="2" fill="#24262c" stroke="#2f3137" stroke-width="1"/><path d="M1013.5,58.5 L1016,61 L1018.5,58.5" fill="none" stroke="#ccccdc" stroke-width="1.2"/><rect x="1039" y="48" width="72" height="24" rx="2" fill="#3D71D9"/><rect x="1088" y="48" width="1" height="24" fill="#2a55ad"/><path d="M1097.5,58.5 L1100,61 L1102.5,58.5" fill="none" stroke="#fff" stroke-width="1.3"/><rect x="789.5" y="96.5" width="145" height="31" rx="2" fill="#1f2126" stroke="#2e3036" stroke-width="1"/><rect x="899" y="97" width="1" height="30" fill="#2e3036"/><circle cx="806.8" cy="112" r="7" fill="none" stroke="#ccccdc" stroke-width="1.5"/><path d="M806.8,108 V112.3 H804.2" fill="none" stroke="#ccccdc" stroke-width="1.5"/><path d="M880.5,110 L883.2,112.7 L885.9,110" fill="none" stroke="#ccccdc" stroke-width="1.3"/><circle cx="915.5" cy="111" r="6" fill="none" stroke="#ccccdc" stroke-width="1.5"/><path d="M912.5,111 H918.5 M919.8,115.3 L923,118.5" fill="none" stroke="#ccccdc" stroke-width="1.5" stroke-linecap="round"/><rect x="943.5" y="96.5" width="159" height="31" rx="2" fill="#1f2126" stroke="#2e3036" stroke-width="1"/><rect x="1039" y="97" width="1" height="30" fill="#2e3036"/><path d="M954.2,109 A7,7 0 0 1 966.5,107.5 M967.4,115 A7,7 0 0 1 955,116.5" fill="none" stroke="#ccccdc" stroke-width="1.5"/><path d="M953.5,105 V109.5 H958 M968,119 V114.5 H963.5" fill="none" stroke="#ccccdc" stroke-width="1.5"/><path d="M1083.6,110 L1086.3,112.7 L1089,110" fill="none" stroke="#ccccdc" stroke-width="1.3"/><line x1="683" y1="115" x2="1036" y2="32.6" stroke="#E8141C" stroke-width="2.3" stroke-linecap="round"/><polygon points="1047,30 1033.1,27.6 1035.6,38.3" fill="#E8141C"/><text x="62.2" y="24.7" font-size="14" fill="#ccccdc" text-anchor="start" letter-spacing="0.3">Home</text><text x="126.6" y="24.7" font-size="14" fill="#ccccdc" text-anchor="start" letter-spacing="0.4">Dashboards</text><text x="231.6" y="24.7" font-size="14" fill="#ccccdc" text-anchor="start" letter-spacing="0.3">Sonstige</text><text x="314.3" y="24.7" font-size="14" fill="#9898a4" text-anchor="start" letter-spacing="0.3">Shelly Plug S</text><text x="590.2" y="24.7" font-size="14" fill="#9898a4" text-anchor="start" letter-spacing="0.57">Suche oder springe zu ...</text><text x="883.6" y="24.5" font-size="13" fill="#9898a4" text-anchor="start" letter-spacing="0.4">ctrl+k</text><text x="1057.6" y="24.6" font-size="14" fill="#ccccdc" text-anchor="start" letter-spacing="0.35">Sign in</text><text x="967.5" y="64.3" font-size="12" fill="#ccccdc" text-anchor="start" letter-spacing="0.85" stroke="#ccccdc" stroke-width="0.35">Export</text><text x="1047.2" y="64.3" font-size="12" fill="#ffffff" text-anchor="start" letter-spacing="0.6" stroke="#ffffff" stroke-width="0.35">Share</text><text x="824.2" y="118" font-size="14" fill="#ccccdc" text-anchor="start" letter-spacing="0.9" stroke="#ccccdc" stroke-width="0.4">Today</text><text x="978.6" y="118" font-size="14" fill="#ccccdc" text-anchor="start" letter-spacing="0.6" stroke="#ccccdc" stroke-width="0.4">Refresh</text><text x="1048.5" y="118" font-size="14" fill="#ccccdc" text-anchor="start" letter-spacing="1.3" stroke="#ccccdc" stroke-width="0.4">30s</text></svg>
</body></html>
